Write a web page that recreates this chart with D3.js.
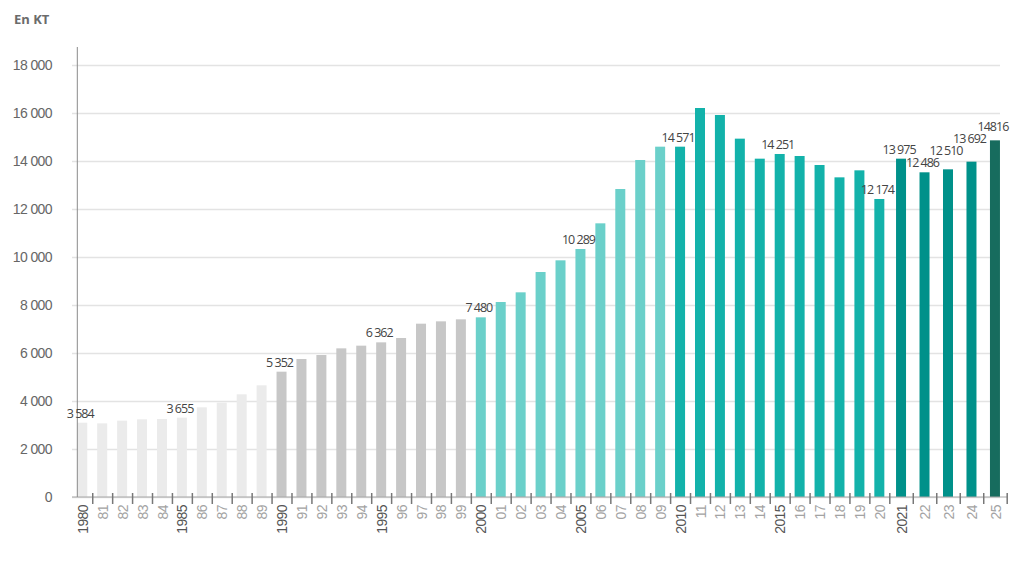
<!DOCTYPE html>
<html>
<head>
<meta charset="utf-8">
<script src="https://cdn.jsdelivr.net/npm/d3@7"></script>
<style>
  body { margin: 0; background: #fff; }
  svg { font-family: "Open Sans", "Noto Sans", sans-serif; }
</style>
</head>
<body>
<div id="chart"></div>
<script>
// annees et valeurs (en KT)
const years = d3.range(1980, 2026);
const values = [
  3096, 3069, 3181, 3236, 3250, 3306, 3736, 3931, 4278, 4653,
  5222, 5750, 5917, 6194, 6306, 6444, 6625, 7222, 7319, 7403,
  7486, 8125, 8528, 9375, 9861, 10333, 11403, 12833, 14042, 14597,
  14597, 16208, 15917, 14931, 14097, 14292, 14208, 13833, 13319, 13611, 12417,
  14097, 13529, 13653, 13972, 14861
];

// etiquettes affichees au-dessus de certaines barres
const labelYears = [1980, 1985, 1990, 1995, 2000, 2005, 2010, 2015, 2020, 2021, 2022, 2023, 2024, 2025];
const labelTexts = ["3 584", "3 655", "5 352", "6 362", "7 480", "10 289", "14 571",
  "14 251", "12 174", "13 975", "12 486", "12 510", "13 692", "14816"];

// annees ecrites en entier sur l'axe
const fullYears = [1980, 1985, 1990, 1995, 2000, 2005, 2010, 2015, 2021];

const yTicks = d3.range(0, 18001, 2000);

// periodes et couleurs
const periodStarts = [1980, 1990, 2000, 2010, 2021, 2025];
const periodColors = ["#ebebeb", "#c7c7c7", "#6bd0ca", "#13b2aa", "#00918a", "#176c5e"];

const width = 1024, height = 585;
const axisY = 497;

const svg = d3.select("#chart")
  .append("svg")
    .attr("width", width)
    .attr("height", height);

// position par index : les 41 premieres annees plus serrees que les 5 dernieres
const x = d3.scaleLinear()
  .domain([0, 41, 46])
  .range([72.3, 889.3, 1006.7]);

const y = d3.scaleLinear()
  .domain([0, 18000])
  .range([axisY, 65]);

const color = d3.scaleThreshold()
  .domain(periodStarts.slice(1))
  .range(periodColors);

const fmt = d3.formatLocale({ thousands: " ", grouping: [3], decimal: ",", currency: ["", ""] }).format(",");

// grille + libelles de l'axe y
const yAxis = svg.append("g")
  .attr("transform", "translate(72,0)")
  .call(d3.axisLeft(y).tickValues(yTicks).tickFormat(fmt).tickSize(-928).tickPadding(20));
yAxis.select(".domain").remove();
yAxis.selectAll(".tick line")
  .attr("stroke", "#e3e3e3")
  .attr("stroke-width", 1.5);
yAxis.selectAll(".tick text")
  .attr("fill", "#666")
  .style("font-size", "14px")
  .style("letter-spacing", "-0.6px");

// titre de l'unite
svg.append("text")
  .attr("x", 14)
  .attr("y", 24)
  .attr("fill", "#6b6b6b")
  .style("font-size", "13px")
  .style("font-weight", "bold")
  .text("En KT");

// barres
const barW = 10;
svg.selectAll("rect.bar")
  .data(years)
  .enter()
  .append("rect")
    .attr("class", "bar")
    .attr("x", (d, i) => x(i + 0.5) - barW / 2)
    .attr("y", (d, i) => y(values[i]))
    .attr("width", barW)
    .attr("height", (d, i) => axisY - y(values[i]))
    .attr("fill", d => color(d));

// ligne de l'axe x
svg.append("line")
  .attr("x1", 72).attr("x2", 1007)
  .attr("y1", axisY).attr("y2", axisY)
  .attr("stroke", "#a8a8a8")
  .attr("stroke-width", 1.2);

// axe y vertical
svg.append("line")
  .attr("x1", 77.3).attr("x2", 77.3)
  .attr("y1", 47).attr("y2", axisY)
  .attr("stroke", "#8a8a8a")
  .attr("stroke-width", 1);

// petites graduations entre les annees
const tickAxis = svg.append("g")
  .attr("transform", `translate(0,${axisY - 4})`)
  .call(d3.axisBottom(x).tickValues(d3.range(1, 47)).tickFormat("").tickSize(11));
tickAxis.select(".domain").remove();
tickAxis.selectAll(".tick line")
  .attr("stroke", "#777")
  .attr("stroke-width", 1.5);

// libelles des annees
const labAxis = svg.append("g")
  .attr("transform", `translate(0,${axisY})`)
  .call(d3.axisBottom(x)
    .tickValues(years.map((d, i) => i + 0.5))
    .tickSize(0)
    .tickFormat((d, i) => fullYears.includes(years[i]) ? String(years[i]) : String(years[i]).slice(2)));
labAxis.select(".domain").remove();
labAxis.selectAll(".tick text")
  .attr("transform", "rotate(-90)")
  .attr("text-anchor", "end")
  .attr("x", -8)
  .attr("y", 0)
  .attr("dy", "0.36em")
  .style("font-size", "14px")
  .style("letter-spacing", "-0.6px")
  .attr("fill", (d, i) => fullYears.includes(years[i]) ? "#555" : "#a3a3a3");

// etiquettes de valeurs, decalees vers le haut si elles se chevauchent
const labelData = labelYears.map((yr, k) => {
  const i = years.indexOf(yr);
  return { i: i, text: labelTexts[k], cx: x(i + 0.5), top: y(values[i]) };
});
let prev = null;
labelData.forEach(d => {
  d.ly = d.top - 5;
  if (prev && d.cx - prev.cx < 31 && Math.abs(d.ly - prev.ly) < 12) {
    d.ly = Math.min(d.ly, prev.ly - 12);
  }
  prev = d;
});

svg.selectAll("text.val")
  .data(labelData)
  .enter()
  .append("text")
    .attr("class", "val")
    .attr("x", d => d.cx - 2)
    .attr("y", d => d.ly)
    .attr("text-anchor", "middle")
    .attr("fill", "#444")
    .style("font-size", "12.5px")
    .style("letter-spacing", "-1px")
    .text(d => d.text);
</script>
</body>
</html>
